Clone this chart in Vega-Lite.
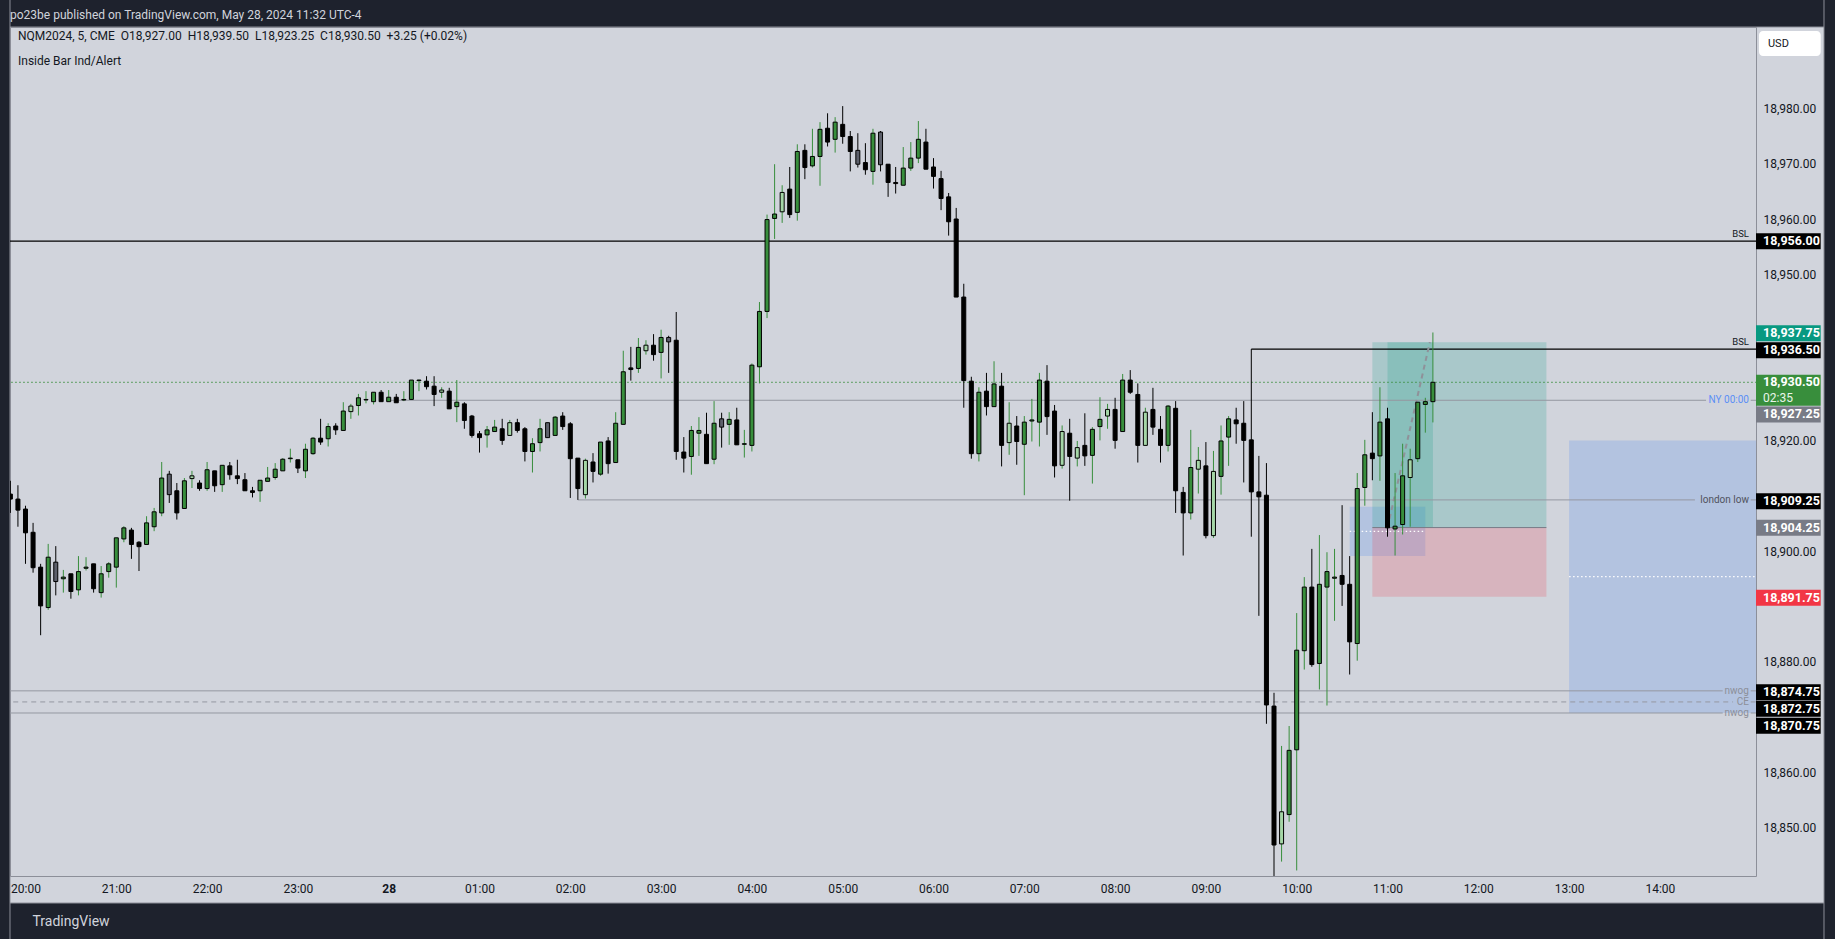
{
"$schema": "https://vega.github.io/schema/vega-lite/v6.json",
"width": 1746, "height": 849,
"autosize": {"type": "none"},
"padding": {"left": 10, "top": 27, "right": 79, "bottom": 63},
"background": "#d1d4dc",
"config": {"view": {"fill": "#d1d4dc", "stroke": "#8c8f99", "strokeWidth": 1}, "font": "Roboto"},
"datasets": {
"one": [{"k": 1}],
"candles": [
{"t":"2024-05-27T19:50Z","o":18910.3,"h":18912.7,"l":18906.9,"c":18909.4},
{"t":"2024-05-27T19:55Z","o":18909.4,"h":18911.9,"l":18904.4,"c":18907.4},
{"t":"2024-05-27T20:00Z","o":18907.6,"h":18908.2,"l":18897.7,"c":18903.3},
{"t":"2024-05-27T20:05Z","o":18903.4,"h":18905.1,"l":18896.1,"c":18897.0},
{"t":"2024-05-27T20:10Z","o":18897.1,"h":18897.7,"l":18884.8,"c":18890.1},
{"t":"2024-05-27T20:15Z","o":18889.8,"h":18901.3,"l":18889.4,"c":18898.9},
{"t":"2024-05-27T20:20Z","o":18898.0,"h":18900.9,"l":18892.0,"c":18894.5,"i":1},
{"t":"2024-05-27T20:25Z","o":18895.0,"h":18896.6,"l":18892.5,"c":18895.3},
{"t":"2024-05-27T20:30Z","o":18895.9,"h":18895.9,"l":18891.4,"c":18892.7},
{"t":"2024-05-27T20:35Z","o":18893.0,"h":18899.1,"l":18892.0,"c":18896.3},
{"t":"2024-05-27T20:40Z","o":18896.9,"h":18898.9,"l":18896.5,"c":18897.1},
{"t":"2024-05-27T20:45Z","o":18897.7,"h":18897.7,"l":18892.5,"c":18893.2},
{"t":"2024-05-27T20:50Z","o":18892.5,"h":18897.3,"l":18891.6,"c":18895.9},
{"t":"2024-05-27T20:55Z","o":18896.3,"h":18898.0,"l":18895.2,"c":18897.7},
{"t":"2024-05-27T21:00Z","o":18897.1,"h":18902.4,"l":18893.4,"c":18902.4},
{"t":"2024-05-27T21:05Z","o":18902.2,"h":18904.5,"l":18901.6,"c":18904.2},
{"t":"2024-05-27T21:10Z","o":18903.8,"h":18904.2,"l":18898.6,"c":18901.2},
{"t":"2024-05-27T21:15Z","o":18901.6,"h":18901.8,"l":18896.4,"c":18900.8},
{"t":"2024-05-27T21:20Z","o":18901.2,"h":18906.3,"l":18901.2,"c":18905.1},
{"t":"2024-05-27T21:25Z","o":18904.4,"h":18907.8,"l":18903.6,"c":18907.1},
{"t":"2024-05-27T21:30Z","o":18906.9,"h":18916.1,"l":18906.3,"c":18913.2},
{"t":"2024-05-27T21:35Z","o":18913.9,"h":18914.5,"l":18908.7,"c":18910.2,"i":1},
{"t":"2024-05-27T21:40Z","o":18910.9,"h":18912.3,"l":18905.7,"c":18906.9},
{"t":"2024-05-27T21:45Z","o":18907.7,"h":18913.2,"l":18907.7,"c":18912.7},
{"t":"2024-05-27T21:50Z","o":18913.1,"h":18914.5,"l":18911.4,"c":18913.6,"i":1},
{"t":"2024-05-27T21:55Z","o":18912.3,"h":18912.8,"l":18910.9,"c":18911.3},
{"t":"2024-05-27T22:00Z","o":18911.3,"h":18916.1,"l":18910.9,"c":18914.7},
{"t":"2024-05-27T22:05Z","o":18914.5,"h":18914.5,"l":18910.7,"c":18911.8},
{"t":"2024-05-27T22:10Z","o":18912.0,"h":18915.5,"l":18910.7,"c":18915.5},
{"t":"2024-05-27T22:15Z","o":18915.4,"h":18916.1,"l":18912.9,"c":18913.8},
{"t":"2024-05-27T22:20Z","o":18913.6,"h":18916.5,"l":18912.1,"c":18913.1},
{"t":"2024-05-27T22:25Z","o":18912.9,"h":18914.1,"l":18910.9,"c":18910.9},
{"t":"2024-05-27T22:30Z","o":18910.9,"h":18911.6,"l":18909.7,"c":18910.6},
{"t":"2024-05-27T22:35Z","o":18910.9,"h":18912.8,"l":18908.9,"c":18912.8},
{"t":"2024-05-27T22:40Z","o":18912.6,"h":18915.2,"l":18912.6,"c":18913.2},
{"t":"2024-05-27T22:45Z","o":18913.3,"h":18915.9,"l":18912.9,"c":18914.8},
{"t":"2024-05-27T22:50Z","o":18914.5,"h":18916.8,"l":18914.5,"c":18916.6},
{"t":"2024-05-27T22:55Z","o":18916.7,"h":18918.5,"l":18916.0,"c":18916.8},
{"t":"2024-05-27T23:00Z","o":18916.5,"h":18916.5,"l":18914.1,"c":18915.0},
{"t":"2024-05-27T23:05Z","o":18914.5,"h":18919.4,"l":18913.2,"c":18918.4},
{"t":"2024-05-27T23:10Z","o":18917.6,"h":18920.6,"l":18917.4,"c":18920.4},
{"t":"2024-05-27T23:15Z","o":18920.4,"h":18923.9,"l":18919.2,"c":18919.7},
{"t":"2024-05-27T23:20Z","o":18920.3,"h":18923.1,"l":18918.9,"c":18922.5},
{"t":"2024-05-27T23:25Z","o":18922.6,"h":18923.1,"l":18921.0,"c":18921.9},
{"t":"2024-05-27T23:30Z","o":18921.8,"h":18926.9,"l":18921.8,"c":18925.3},
{"t":"2024-05-27T23:35Z","o":18925.2,"h":18926.6,"l":18923.9,"c":18926.2,"i":1},
{"t":"2024-05-27T23:40Z","o":18926.3,"h":18928.4,"l":18924.5,"c":18927.7},
{"t":"2024-05-27T23:45Z","o":18927.3,"h":18928.9,"l":18926.7,"c":18927.4},
{"t":"2024-05-27T23:50Z","o":18927.0,"h":18928.7,"l":18926.5,"c":18928.7},
{"t":"2024-05-27T23:55Z","o":18928.7,"h":18929.1,"l":18927.0,"c":18927.0},
{"t":"2024-05-28T00:00Z","o":18927.0,"h":18929.1,"l":18927.0,"c":18927.8},
{"t":"2024-05-28T00:05Z","o":18927.8,"h":18928.4,"l":18926.8,"c":18926.8},
{"t":"2024-05-28T00:10Z","o":18927.3,"h":18928.9,"l":18927.1,"c":18927.4},
{"t":"2024-05-28T00:15Z","o":18927.4,"h":18930.9,"l":18927.3,"c":18930.9},
{"t":"2024-05-28T00:20Z","o":18930.8,"h":18931.0,"l":18928.9,"c":18930.9},
{"t":"2024-05-28T00:25Z","o":18930.7,"h":18931.6,"l":18929.2,"c":18929.7},
{"t":"2024-05-28T00:30Z","o":18929.8,"h":18931.6,"l":18926.2,"c":18928.3},
{"t":"2024-05-28T00:35Z","o":18928.7,"h":18929.6,"l":18927.7,"c":18929.1,"i":1},
{"t":"2024-05-28T00:40Z","o":18928.9,"h":18929.5,"l":18925.7,"c":18925.7},
{"t":"2024-05-28T00:45Z","o":18926.1,"h":18930.9,"l":18923.3,"c":18926.9},
{"t":"2024-05-28T00:50Z","o":18926.6,"h":18926.9,"l":18922.1,"c":18923.6},
{"t":"2024-05-28T00:55Z","o":18924.4,"h":18924.6,"l":18920.5,"c":18920.9},
{"t":"2024-05-28T01:00Z","o":18921.2,"h":18921.7,"l":18917.8,"c":18920.5},
{"t":"2024-05-28T01:05Z","o":18921.0,"h":18922.6,"l":18918.7,"c":18921.9},
{"t":"2024-05-28T01:10Z","o":18921.6,"h":18923.7,"l":18921.6,"c":18922.4},
{"t":"2024-05-28T01:15Z","o":18922.1,"h":18923.9,"l":18919.2,"c":18920.0},
{"t":"2024-05-28T01:20Z","o":18920.9,"h":18923.7,"l":18920.9,"c":18923.2,"i":1},
{"t":"2024-05-28T01:25Z","o":18923.2,"h":18923.9,"l":18921.4,"c":18921.8},
{"t":"2024-05-28T01:30Z","o":18922.1,"h":18922.4,"l":18916.2,"c":18918.0},
{"t":"2024-05-28T01:35Z","o":18918.0,"h":18920.4,"l":18914.2,"c":18919.4},
{"t":"2024-05-28T01:40Z","o":18919.6,"h":18923.9,"l":18918.0,"c":18922.1},
{"t":"2024-05-28T01:45Z","o":18923.2,"h":18923.2,"l":18920.5,"c":18920.5,"i":1},
{"t":"2024-05-28T01:50Z","o":18920.9,"h":18924.4,"l":18920.9,"c":18924.2},
{"t":"2024-05-28T01:55Z","o":18924.4,"h":18925.1,"l":18921.9,"c":18922.5},
{"t":"2024-05-28T02:00Z","o":18923.0,"h":18923.3,"l":18909.6,"c":18916.7},
{"t":"2024-05-28T02:05Z","o":18916.8,"h":18916.8,"l":18909.25,"c":18911.3},
{"t":"2024-05-28T02:10Z","o":18910.2,"h":18916.7,"l":18909.5,"c":18916.4,"i":1},
{"t":"2024-05-28T02:15Z","o":18916.1,"h":18917.7,"l":18912.4,"c":18914.4},
{"t":"2024-05-28T02:20Z","o":18913.9,"h":18919.7,"l":18913.6,"c":18919.7},
{"t":"2024-05-28T02:25Z","o":18919.9,"h":18920.6,"l":18914.0,"c":18915.8},
{"t":"2024-05-28T02:30Z","o":18916.0,"h":18925.1,"l":18916.0,"c":18923.1},
{"t":"2024-05-28T02:35Z","o":18922.9,"h":18936.2,"l":18922.9,"c":18932.4},
{"t":"2024-05-28T02:40Z","o":18933.1,"h":18936.9,"l":18930.8,"c":18932.8},
{"t":"2024-05-28T02:45Z","o":18933.0,"h":18938.5,"l":18932.2,"c":18936.8},
{"t":"2024-05-28T02:50Z","o":18936.2,"h":18938.1,"l":18935.5,"c":18937.2,"i":1},
{"t":"2024-05-28T02:55Z","o":18937.2,"h":18939.2,"l":18934.4,"c":18935.5},
{"t":"2024-05-28T03:00Z","o":18935.9,"h":18940.0,"l":18931.2,"c":18938.6},
{"t":"2024-05-28T03:05Z","o":18938.6,"h":18938.9,"l":18932.2,"c":18937.8,"i":1},
{"t":"2024-05-28T03:10Z","o":18938.1,"h":18943.2,"l":18916.5,"c":18918.0},
{"t":"2024-05-28T03:15Z","o":18917.9,"h":18920.6,"l":18914.2,"c":18916.8},
{"t":"2024-05-28T03:20Z","o":18917.1,"h":18922.6,"l":18913.8,"c":18921.8},
{"t":"2024-05-28T03:25Z","o":18921.3,"h":18924.2,"l":18917.2,"c":18921.8},
{"t":"2024-05-28T03:30Z","o":18921.1,"h":18925.0,"l":18915.8,"c":18915.8},
{"t":"2024-05-28T03:35Z","o":18916.6,"h":18927.1,"l":18915.7,"c":18923.1},
{"t":"2024-05-28T03:40Z","o":18923.9,"h":18925.0,"l":18918.7,"c":18922.4,"i":1},
{"t":"2024-05-28T03:45Z","o":18922.9,"h":18925.1,"l":18919.2,"c":18923.8},
{"t":"2024-05-28T03:50Z","o":18923.7,"h":18925.9,"l":18919.2,"c":18919.2},
{"t":"2024-05-28T03:55Z","o":18919.3,"h":18921.9,"l":18916.9,"c":18919.4},
{"t":"2024-05-28T04:00Z","o":18919.1,"h":18933.9,"l":18918.0,"c":18933.6},
{"t":"2024-05-28T04:05Z","o":18933.3,"h":18945.0,"l":18930.3,"c":18943.3},
{"t":"2024-05-28T04:10Z","o":18943.3,"h":18960.8,"l":18942.1,"c":18959.9},
{"t":"2024-05-28T04:15Z","o":18960.1,"h":18969.9,"l":18956.4,"c":18960.9},
{"t":"2024-05-28T04:20Z","o":18961.3,"h":18966.1,"l":18959.3,"c":18964.8,"i":1},
{"t":"2024-05-28T04:25Z","o":18965.4,"h":18969.4,"l":18960.2,"c":18960.8},
{"t":"2024-05-28T04:30Z","o":18961.2,"h":18973.5,"l":18959.7,"c":18972.2},
{"t":"2024-05-28T04:35Z","o":18972.4,"h":18973.5,"l":18967.2,"c":18969.3},
{"t":"2024-05-28T04:40Z","o":18969.6,"h":18976.3,"l":18969.3,"c":18971.3},
{"t":"2024-05-28T04:45Z","o":18971.3,"h":18977.5,"l":18966.0,"c":18976.2},
{"t":"2024-05-28T04:50Z","o":18976.4,"h":18979.1,"l":18973.1,"c":18973.9},
{"t":"2024-05-28T04:55Z","o":18974.4,"h":18978.4,"l":18972.0,"c":18977.5},
{"t":"2024-05-28T05:00Z","o":18977.1,"h":18980.4,"l":18973.6,"c":18974.9},
{"t":"2024-05-28T05:05Z","o":18974.9,"h":18975.9,"l":18968.6,"c":18972.2},
{"t":"2024-05-28T05:10Z","o":18972.4,"h":18975.5,"l":18969.3,"c":18969.9,"i":1},
{"t":"2024-05-28T05:15Z","o":18970.2,"h":18973.7,"l":18968.0,"c":18968.9},
{"t":"2024-05-28T05:20Z","o":18968.6,"h":18976.3,"l":18966.2,"c":18975.5},
{"t":"2024-05-28T05:25Z","o":18975.7,"h":18975.9,"l":18968.6,"c":18969.8,"i":1},
{"t":"2024-05-28T05:30Z","o":18969.9,"h":18969.9,"l":18964.0,"c":18966.6},
{"t":"2024-05-28T05:35Z","o":18966.6,"h":18969.4,"l":18964.6,"c":18966.4},
{"t":"2024-05-28T05:40Z","o":18966.1,"h":18973.0,"l":18966.1,"c":18969.2},
{"t":"2024-05-28T05:45Z","o":18969.2,"h":18973.9,"l":18968.7,"c":18971.0},
{"t":"2024-05-28T05:50Z","o":18971.0,"h":18977.7,"l":18970.1,"c":18974.4},
{"t":"2024-05-28T05:55Z","o":18973.9,"h":18976.3,"l":18969.0,"c":18969.0},
{"t":"2024-05-28T06:00Z","o":18969.4,"h":18971.0,"l":18965.5,"c":18967.7},
{"t":"2024-05-28T06:05Z","o":18967.3,"h":18968.7,"l":18961.6,"c":18963.7},
{"t":"2024-05-28T06:10Z","o":18964.0,"h":18964.7,"l":18957.0,"c":18959.5},
{"t":"2024-05-28T06:15Z","o":18960.0,"h":18962.0,"l":18945.9,"c":18945.9},
{"t":"2024-05-28T06:20Z","o":18945.9,"h":18948.3,"l":18925.9,"c":18930.8},
{"t":"2024-05-28T06:25Z","o":18930.7,"h":18931.5,"l":18916.7,"c":18917.6},
{"t":"2024-05-28T06:30Z","o":18917.6,"h":18929.6,"l":18916.2,"c":18928.7},
{"t":"2024-05-28T06:35Z","o":18928.9,"h":18932.2,"l":18924.5,"c":18926.1},
{"t":"2024-05-28T06:40Z","o":18926.1,"h":18934.3,"l":18926.1,"c":18930.2},
{"t":"2024-05-28T06:45Z","o":18929.8,"h":18932.2,"l":18915.3,"c":18919.1},
{"t":"2024-05-28T06:50Z","o":18919.6,"h":18926.9,"l":18917.4,"c":18923.1,"i":1},
{"t":"2024-05-28T06:55Z","o":18922.6,"h":18924.4,"l":18915.6,"c":18919.8},
{"t":"2024-05-28T07:00Z","o":18919.3,"h":18924.4,"l":18910.1,"c":18923.3},
{"t":"2024-05-28T07:05Z","o":18923.5,"h":18927.5,"l":18919.8,"c":18923.7},
{"t":"2024-05-28T07:10Z","o":18923.3,"h":18932.2,"l":18918.9,"c":18930.9},
{"t":"2024-05-28T07:15Z","o":18930.7,"h":18933.6,"l":18921.0,"c":18924.3},
{"t":"2024-05-28T07:20Z","o":18925.3,"h":18926.4,"l":18913.3,"c":18915.4},
{"t":"2024-05-28T07:25Z","o":18915.5,"h":18922.7,"l":18914.9,"c":18921.6,"i":1},
{"t":"2024-05-28T07:30Z","o":18921.3,"h":18923.9,"l":18909.1,"c":18917.1},
{"t":"2024-05-28T07:35Z","o":18916.8,"h":18919.9,"l":18915.3,"c":18918.7,"i":1},
{"t":"2024-05-28T07:40Z","o":18919.1,"h":18924.9,"l":18915.4,"c":18917.2},
{"t":"2024-05-28T07:45Z","o":18917.3,"h":18922.4,"l":18912.2,"c":18922.0},
{"t":"2024-05-28T07:50Z","o":18922.5,"h":18927.8,"l":18920.0,"c":18923.8},
{"t":"2024-05-28T07:55Z","o":18924.4,"h":18926.6,"l":18922.1,"c":18925.6,"i":1},
{"t":"2024-05-28T08:00Z","o":18925.6,"h":18927.7,"l":18918.5,"c":18920.0},
{"t":"2024-05-28T08:05Z","o":18921.6,"h":18932.0,"l":18921.6,"c":18930.9},
{"t":"2024-05-28T08:10Z","o":18930.9,"h":18932.7,"l":18928.4,"c":18928.7},
{"t":"2024-05-28T08:15Z","o":18928.3,"h":18930.3,"l":18916.0,"c":18919.1},
{"t":"2024-05-28T08:20Z","o":18919.1,"h":18925.9,"l":18919.1,"c":18925.1,"i":1},
{"t":"2024-05-28T08:25Z","o":18925.6,"h":18929.5,"l":18921.0,"c":18922.4},
{"t":"2024-05-28T08:30Z","o":18922.0,"h":18924.4,"l":18916.0,"c":18919.1},
{"t":"2024-05-28T08:35Z","o":18919.1,"h":18926.4,"l":18918.0,"c":18926.2},
{"t":"2024-05-28T08:40Z","o":18925.8,"h":18927.1,"l":18906.9,"c":18910.9},
{"t":"2024-05-28T08:45Z","o":18910.6,"h":18911.6,"l":18899.2,"c":18906.9},
{"t":"2024-05-28T08:50Z","o":18906.9,"h":18921.9,"l":18905.7,"c":18915.1},
{"t":"2024-05-28T08:55Z","o":18914.8,"h":18918.8,"l":18910.4,"c":18916.4,"i":1},
{"t":"2024-05-28T09:00Z","o":18915.4,"h":18919.7,"l":18902.3,"c":18902.8},
{"t":"2024-05-28T09:05Z","o":18902.8,"h":18918.1,"l":18902.4,"c":18914.4,"i":1},
{"t":"2024-05-28T09:10Z","o":18913.5,"h":18922.7,"l":18910.2,"c":18919.9},
{"t":"2024-05-28T09:15Z","o":18920.6,"h":18924.4,"l":18915.4,"c":18923.9},
{"t":"2024-05-28T09:20Z","o":18923.7,"h":18925.9,"l":18919.4,"c":18923.0},
{"t":"2024-05-28T09:25Z","o":18923.1,"h":18927.1,"l":18912.4,"c":18920.0},
{"t":"2024-05-28T09:30Z","o":18920.1,"h":18936.5,"l":18902.6,"c":18910.7},
{"t":"2024-05-28T09:35Z","o":18910.7,"h":18917.2,"l":18888.3,"c":18909.8},
{"t":"2024-05-28T09:40Z","o":18910.1,"h":18915.9,"l":18868.8,"c":18872.2},
{"t":"2024-05-28T09:45Z","o":18872.0,"h":18874.4,"l":18841.3,"c":18846.9},
{"t":"2024-05-28T09:50Z","o":18847.1,"h":18864.8,"l":18843.9,"c":18852.9,"i":1},
{"t":"2024-05-28T09:55Z","o":18852.4,"h":18868.4,"l":18851.1,"c":18864.0},
{"t":"2024-05-28T10:00Z","o":18864.1,"h":18888.8,"l":18842.3,"c":18882.1},
{"t":"2024-05-28T10:05Z","o":18882.0,"h":18895.3,"l":18878.6,"c":18893.5},
{"t":"2024-05-28T10:10Z","o":18893.5,"h":18900.4,"l":18879.1,"c":18879.5},
{"t":"2024-05-28T10:15Z","o":18879.7,"h":18902.9,"l":18875.0,"c":18894.0},
{"t":"2024-05-28T10:20Z","o":18893.5,"h":18899.8,"l":18872.1,"c":18896.3},
{"t":"2024-05-28T10:25Z","o":18895.1,"h":18900.4,"l":18887.4,"c":18895.3},
{"t":"2024-05-28T10:30Z","o":18895.6,"h":18908.3,"l":18890.1,"c":18894.0},
{"t":"2024-05-28T10:35Z","o":18894.0,"h":18899.1,"l":18877.7,"c":18883.6},
{"t":"2024-05-28T10:40Z","o":18883.3,"h":18914.1,"l":18880.2,"c":18911.3},
{"t":"2024-05-28T10:45Z","o":18911.5,"h":18920.1,"l":18908.2,"c":18917.4},
{"t":"2024-05-28T10:50Z","o":18917.7,"h":18925.1,"l":18912.8,"c":18916.7},
{"t":"2024-05-28T10:55Z","o":18917.2,"h":18929.6,"l":18912.7,"c":18923.3},
{"t":"2024-05-28T11:00Z","o":18923.9,"h":18925.9,"l":18902.6,"c":18904.2},
{"t":"2024-05-28T11:05Z","o":18904.0,"h":18914.1,"l":18899.2,"c":18904.5},
{"t":"2024-05-28T11:10Z","o":18904.8,"h":18919.4,"l":18903.0,"c":18913.6},
{"t":"2024-05-28T11:15Z","o":18913.3,"h":18918.5,"l":18904.4,"c":18916.5,"i":1},
{"t":"2024-05-28T11:20Z","o":18916.7,"h":18926.9,"l":18916.1,"c":18926.9},
{"t":"2024-05-28T11:25Z","o":18926.5,"h":18927.7,"l":18921.4,"c":18927.0},
{"t":"2024-05-28T11:30Z","o":18927.0,"h":18939.5,"l":18923.25,"c":18930.5}
]
},
"layer": [
{
"data": {"values": [{"t1":"2024-05-28T13:00Z","t2":"2024-05-28T15:03:30Z","p1":18870.75,"p2":18920.0},{"t1":"2024-05-28T10:35Z","t2":"2024-05-28T11:25Z","p1":18899.1,"p2":18908.0}]},
"mark": {"type": "rect", "fill": "#4a89f0", "opacity": 0.22},
"encoding": {
"x": {"field": "t1", "type": "temporal",
 "scale": {"type": "utc", "nice": false, "padding": 0, "domain": [{"year":2024,"month":5,"date":27,"hours":19,"minutes":49,"seconds":45,"milliseconds":500,"utc":true},{"year":2024,"month":5,"date":28,"hours":15,"minutes":3,"seconds":30,"utc":true}]},
 "axis": {"orient": "bottom", "values": [
  {"year":2024,"month":5,"date":27,"hours":20,"utc":true},{"year":2024,"month":5,"date":27,"hours":21,"utc":true},{"year":2024,"month":5,"date":27,"hours":22,"utc":true},{"year":2024,"month":5,"date":27,"hours":23,"utc":true},
  {"year":2024,"month":5,"date":28,"hours":0,"utc":true},{"year":2024,"month":5,"date":28,"hours":1,"utc":true},{"year":2024,"month":5,"date":28,"hours":2,"utc":true},{"year":2024,"month":5,"date":28,"hours":3,"utc":true},
  {"year":2024,"month":5,"date":28,"hours":4,"utc":true},{"year":2024,"month":5,"date":28,"hours":5,"utc":true},{"year":2024,"month":5,"date":28,"hours":6,"utc":true},{"year":2024,"month":5,"date":28,"hours":7,"utc":true},
  {"year":2024,"month":5,"date":28,"hours":8,"utc":true},{"year":2024,"month":5,"date":28,"hours":9,"utc":true},{"year":2024,"month":5,"date":28,"hours":10,"utc":true},{"year":2024,"month":5,"date":28,"hours":11,"utc":true},
  {"year":2024,"month":5,"date":28,"hours":12,"utc":true},{"year":2024,"month":5,"date":28,"hours":13,"utc":true},{"year":2024,"month":5,"date":28,"hours":14,"utc":true}],
  "labelExpr": "utchours(datum.value) === 0 ? '28' : utcFormat(datum.value, '%H:%M')",
  "labelFontWeight": {"condition": {"test": "utchours(datum.value) === 0", "value": "bold"}, "value": "normal"},
  "labelFlush": false, "labelOverlap": false, "labelColor": "#131722", "labelFont": "Roboto", "labelFontSize": 12, "labelPadding": 7,
  "ticks": false, "grid": false, "domain": false, "zindex": 1,
  "title": "TradingView", "titleColor": "#d1d4dc", "titleFont": "Roboto", "titleFontSize": 14, "titleFontWeight": "normal",
  "titleAnchor": "start", "titleAlign": "left", "titleX": 22, "titleY": 45, "titleBaseline": "middle"}},
"x2": {"field": "t2"},
"y": {"field": "p1", "type": "quantitative",
 "scale": {"domain": [18841.30, 18994.69], "zero": false, "nice": false, "padding": 0},
 "axis": {"orient": "right", "values": [18850,18860,18880,18900,18920,18950,18960,18970,18980],
  "format": ",.2f", "labelColor": "#131722", "labelFont": "Roboto", "labelFontSize": 12, "labelPadding": 7, "labelBaseline": "middle",
  "ticks": false, "grid": false, "domain": false, "title": null, "zindex": 1}},
"y2": {"field": "p2"}
}
},
{
"data": {"name": "one"},
"mark": {"type": "rect", "fill": "#1e222d", "stroke": "#8c8f99", "strokeWidth": 1},
"encoding": {
 "x": {"datum": {"year":2024,"month":5,"date":27,"hours":18,"utc":true}, "type": "temporal"},
 "x2": {"datum": {"year":2024,"month":5,"date":28,"hours":18,"utc":true}},
 "y": {"datum": 18994.69, "type": "quantitative"}, "y2": {"datum": 19020}}
},
{
"data": {"name": "one"},
"mark": {"type": "rect", "fill": "#1e222d", "stroke": "#8c8f99", "strokeWidth": 1},
"encoding": {
 "x": {"datum": {"year":2024,"month":5,"date":27,"hours":18,"utc":true}, "type": "temporal"},
 "x2": {"datum": {"year":2024,"month":5,"date":28,"hours":18,"utc":true}},
 "y": {"datum": 18810, "type": "quantitative"}, "y2": {"datum": 18836.42}}
},
{
"data": {"name": "one"},
"mark": {"type": "rect", "fill": "#1e222d", "stroke": "#8c8f99", "strokeWidth": 1},
"encoding": {
 "x": {"datum": {"year":2024,"month":5,"date":27,"hours":18,"utc":true}, "type": "temporal"},
 "x2": {"datum": {"year":2024,"month":5,"date":27,"hours":19,"minutes":49,"seconds":45,"utc":true}},
 "y": {"datum": 18810, "type": "quantitative"}, "y2": {"datum": 19020}}
},
{
"data": {"name": "one"},
"mark": {"type": "rect", "fill": "#1e222d", "stroke": "#8c8f99", "strokeWidth": 1},
"encoding": {
 "x": {"datum": {"year":2024,"month":5,"date":28,"hours":15,"minutes":48,"seconds":26,"utc":true}, "type": "temporal"},
 "x2": {"datum": {"year":2024,"month":5,"date":28,"hours":18,"utc":true}},
 "y": {"datum": 18810, "type": "quantitative"}, "y2": {"datum": 19020}}
},
{
"data": {"values": [{"txt":"po23be published on TradingView.com, May 28, 2024 11:32 UTC-4"}]},
"mark": {"type": "text", "align": "left", "baseline": "middle", "color": "#d1d4dc", "fontSize": 12, "font": "Roboto"},
"encoding": {"x": {"datum": {"year":2024,"month":5,"date":27,"hours":19,"minutes":49,"seconds":45,"milliseconds":500,"utc":true}, "type": "temporal"}, "y": {"datum": 18996.86, "type": "quantitative"}, "text": {"field": "txt"}}
},
{
"data": {"values": [{"t1":"2024-05-28T10:50Z","t2":"2024-05-28T12:45Z","p1":18904.25,"p2":18937.75},{"t1":"2024-05-28T11:00Z","t2":"2024-05-28T11:30Z","p1":18904.25,"p2":18937.75}]},
"mark": {"type": "rect", "fill": "#089981", "opacity": 0.2},
"encoding": {"x": {"field": "t1", "type": "temporal"}, "x2": {"field": "t2"}, "y": {"field": "p1", "type": "quantitative"}, "y2": {"field": "p2"}}
},
{
"data": {"values": [{"t1":"2024-05-28T10:50Z","t2":"2024-05-28T12:45Z","p1":18891.75,"p2":18904.25}]},
"mark": {"type": "rect", "fill": "#f23645", "opacity": 0.2},
"encoding": {"x": {"field": "t1", "type": "temporal"}, "x2": {"field": "t2"}, "y": {"field": "p1", "type": "quantitative"}, "y2": {"field": "p2"}}
},
{
"data": {"values": [{"p":18895.375,"t1":"2024-05-28T13:00Z","t2":"2024-05-28T15:03:30Z"},{"p":18903.55,"t1":"2024-05-28T10:35Z","t2":"2024-05-28T11:25Z"}]},
"mark": {"type": "rule", "stroke": "#ffffff", "strokeWidth": 1.2, "strokeDash": [1.5, 2.5]},
"encoding": {"x": {"field": "t1", "type": "temporal"}, "x2": {"field": "t2"}, "y": {"field": "p", "type": "quantitative"}}
},
{
"data": {"values": [
 {"p":18927.25,"t1":"2024-05-28T00:00Z","t2":"2024-05-28T14:30:30Z"},{"p":18927.25,"t1":"2024-05-28T15:00Z","t2":"2024-05-28T15:03:30Z"},
 {"p":18909.25,"t1":"2024-05-28T02:05Z","t2":"2024-05-28T14:23:10Z"},{"p":18909.25,"t1":"2024-05-28T15:00Z","t2":"2024-05-28T15:03:30Z"},
 {"p":18874.75,"t1":"2024-05-27T19:40Z","t2":"2024-05-28T14:41:30Z"},{"p":18874.75,"t1":"2024-05-28T15:00Z","t2":"2024-05-28T15:03:30Z"},
 {"p":18870.75,"t1":"2024-05-27T19:40Z","t2":"2024-05-28T14:41:30Z"},{"p":18870.75,"t1":"2024-05-28T15:00Z","t2":"2024-05-28T15:03:30Z"}]},
"mark": {"type": "rule", "stroke": "#9598a1", "strokeWidth": 1, "clip": true},
"encoding": {"x": {"field": "t1", "type": "temporal"}, "x2": {"field": "t2"}, "y": {"field": "p", "type": "quantitative"}}
},
{
"data": {"values": [{"p":18872.75,"t1":"2024-05-27T19:40Z","t2":"2024-05-28T14:48:20Z"},{"p":18872.75,"t1":"2024-05-28T15:00Z","t2":"2024-05-28T15:03:30Z"}]},
"mark": {"type": "rule", "stroke": "#9598a1", "strokeWidth": 1, "strokeDash": [5, 4], "clip": true},
"encoding": {"x": {"field": "t1", "type": "temporal"}, "x2": {"field": "t2"}, "y": {"field": "p", "type": "quantitative"}}
},
{
"data": {"values": [{"p":18904.25,"t1":"2024-05-28T10:50Z","t2":"2024-05-28T12:45Z"}]},
"mark": {"type": "rule", "stroke": "#787b86", "strokeWidth": 1},
"encoding": {"x": {"field": "t1", "type": "temporal"}, "x2": {"field": "t2"}, "y": {"field": "p", "type": "quantitative"}}
},
{
"data": {"values": [{"p":18930.5,"t1":"2024-05-27T19:40Z","t2":"2024-05-28T15:03:30Z"}]},
"mark": {"type": "rule", "stroke": "#388e3c", "strokeWidth": 1, "strokeDash": [1.5, 2.5], "clip": true},
"encoding": {"x": {"field": "t1", "type": "temporal"}, "x2": {"field": "t2"}, "y": {"field": "p", "type": "quantitative"}}
},
{
"data": {"values": [{"p":18956.0,"t1":"2024-05-27T19:40Z","t2":"2024-05-28T15:03:30Z"},{"p":18936.5,"t1":"2024-05-28T09:30Z","t2":"2024-05-28T15:03:30Z"}]},
"mark": {"type": "rule", "stroke": "#000000", "strokeWidth": 1.2, "clip": true},
"encoding": {"x": {"field": "t1", "type": "temporal"}, "x2": {"field": "t2"}, "y": {"field": "p", "type": "quantitative"}}
},
{
"data": {"values": [{"t":"2024-05-28T11:00Z","p":18904.25},{"t":"2024-05-28T11:28Z","p":18937.75}]},
"mark": {"type": "line", "stroke": "#8f9199", "strokeWidth": 2, "strokeDash": [5, 4]},
"encoding": {"x": {"field": "t", "type": "temporal"}, "y": {"field": "p", "type": "quantitative"}}
},
{
"data": {"name": "candles"},
"mark": {"type": "rule", "strokeWidth": 1, "clip": true},
"encoding": {"x": {"field": "t", "type": "temporal"}, "y": {"field": "l", "type": "quantitative"}, "y2": {"field": "h"},
 "color": {"condition": {"test": "datum.c >= datum.o", "value": "#388e3c"}, "value": "#000000"}}
},
{
"data": {"name": "candles"},
"mark": {"type": "bar", "size": 4, "stroke": "#000000", "strokeWidth": 1, "clip": true},
"encoding": {"x": {"field": "t", "type": "temporal"}, "y": {"field": "o", "type": "quantitative"}, "y2": {"field": "c"},
 "fill": {"condition": [{"test": "datum.i && datum.c >= datum.o", "value": "#a5d6a7"}, {"test": "datum.i", "value": "#5d606b"}, {"test": "datum.c >= datum.o", "value": "#388e3c"}], "value": "#000000"}}
},
{
"data": {"values": [{"p":18956.0,"txt":"BSL"},{"p":18936.5,"txt":"BSL"}]},
"mark": {"type": "text", "align": "right", "baseline": "alphabetic", "dy": -4, "fontSize": 9.5, "font": "Roboto", "color": "#131722"},
"encoding": {"x": {"datum": {"year":2024,"month":5,"date":28,"hours":14,"minutes":58,"seconds":50,"utc":true}, "type": "temporal"}, "y": {"field": "p", "type": "quantitative"}, "text": {"field": "txt"}}
},
{
"data": {"values": [{"p":18927.25,"txt":"NY 00:00"}]},
"mark": {"type": "text", "align": "right", "baseline": "middle", "fontSize": 10, "font": "Roboto", "color": "#5b8ff5"},
"encoding": {"x": {"datum": {"year":2024,"month":5,"date":28,"hours":14,"minutes":58,"seconds":50,"utc":true}, "type": "temporal"}, "y": {"field": "p", "type": "quantitative"}, "text": {"field": "txt"}}
},
{
"data": {"values": [{"p":18909.25,"txt":"london low"},{"p":18874.75,"txt":"nwog"},{"p":18872.75,"txt":"CE"},{"p":18870.75,"txt":"nwog"}]},
"mark": {"type": "text", "align": "right", "baseline": "middle", "fontSize": 10, "font": "Roboto"},
"encoding": {"x": {"datum": {"year":2024,"month":5,"date":28,"hours":14,"minutes":58,"seconds":50,"utc":true}, "type": "temporal"}, "y": {"field": "p", "type": "quantitative"}, "text": {"field": "txt"},
 "color": {"condition": {"test": "datum.txt === 'london low'", "value": "#50535e"}, "value": "#8c8f99"}}
},
{
"data": {"values": [
 {"p":18956.00,"ly":18956.00,"role":"level"},
 {"p":18937.75,"ly":18939.35,"role":"target"},
 {"p":18936.50,"ly":18936.30,"role":"level"},
 {"p":18927.25,"ly":18924.70,"role":"ny"},
 {"p":18909.25,"ly":18909.00,"role":"level"},
 {"p":18904.25,"ly":18904.20,"role":"entry"},
 {"p":18891.75,"ly":18891.55,"role":"stop"},
 {"p":18874.75,"ly":18874.50,"role":"level"},
 {"p":18872.75,"ly":18871.50,"role":"level"},
 {"p":18870.75,"ly":18868.45,"role":"level"}]},
"layer": [
 {"mark": {"type": "bar", "size": 16},
  "encoding": {"x": {"datum": {"year":2024,"month":5,"date":28,"hours":15,"minutes":3,"seconds":30,"utc":true}, "type": "temporal"},
   "x2": {"datum": {"year":2024,"month":5,"date":28,"hours":15,"minutes":46,"seconds":15,"utc":true}},
   "y": {"field": "ly", "type": "quantitative"},
   "fill": {"field": "role", "type": "nominal", "legend": null, "scale": {"domain": ["level","target","ny","entry","stop"], "range": ["#000000","#089981","#787b86","#787b86","#f23645"]}}}},
 {"mark": {"type": "text", "align": "left", "baseline": "middle", "color": "#ffffff", "fontWeight": "bold", "fontSize": 12.5, "font": "Roboto"},
  "encoding": {"x": {"datum": {"year":2024,"month":5,"date":28,"hours":15,"minutes":8,"seconds":7,"utc":true}, "type": "temporal"},
   "y": {"field": "ly", "type": "quantitative"},
   "text": {"field": "p", "type": "quantitative", "format": ",.2f"}}}
]
},
{
"data": {"values": [{"p":18930.5,"ly":18929.05,"cy":18927.75,"cd":"02:35"}]},
"layer": [
 {"mark": {"type": "bar", "size": 31, "fill": "#388e3c"},
  "encoding": {"x": {"datum": {"year":2024,"month":5,"date":28,"hours":15,"minutes":3,"seconds":30,"utc":true}, "type": "temporal"},
   "x2": {"datum": {"year":2024,"month":5,"date":28,"hours":15,"minutes":46,"seconds":15,"utc":true}},
   "y": {"field": "ly", "type": "quantitative"}}},
 {"mark": {"type": "text", "align": "left", "baseline": "middle", "color": "#ffffff", "fontWeight": "bold", "fontSize": 12.5, "font": "Roboto"},
  "encoding": {"x": {"datum": {"year":2024,"month":5,"date":28,"hours":15,"minutes":8,"seconds":7,"utc":true}, "type": "temporal"},
   "y": {"field": "p", "type": "quantitative"},
   "text": {"field": "p", "type": "quantitative", "format": ",.2f"}}},
 {"mark": {"type": "text", "align": "left", "baseline": "middle", "color": "#e8f5e9", "fontSize": 12, "font": "Roboto"},
  "encoding": {"x": {"datum": {"year":2024,"month":5,"date":28,"hours":15,"minutes":8,"seconds":7,"utc":true}, "type": "temporal"},
   "y": {"field": "cy", "type": "quantitative"},
   "text": {"field": "cd"}}}
]
},
{
"data": {"values": [{"cur":"USD"}]},
"layer": [
 {"mark": {"type": "bar", "size": 25, "fill": "#ffffff", "cornerRadius": 4},
  "encoding": {"x": {"datum": {"year":2024,"month":5,"date":28,"hours":15,"minutes":5,"seconds":28,"utc":true}, "type": "temporal"},
   "x2": {"datum": {"year":2024,"month":5,"date":28,"hours":15,"minutes":46,"seconds":15,"utc":true}},
   "y": {"datum": 18991.7, "type": "quantitative"}}},
 {"mark": {"type": "text", "align": "left", "baseline": "middle", "color": "#131722", "fontSize": 11, "font": "Roboto"},
  "encoding": {"x": {"datum": {"year":2024,"month":5,"date":28,"hours":15,"minutes":11,"seconds":25,"utc":true}, "type": "temporal"},
   "y": {"datum": 18991.7, "type": "quantitative"},
   "text": {"field": "cur"}}}
]
},
{
"data": {"values": [{"txt":"NQM2024, 5, CME\u00a0 O18,927.00\u00a0 H18,939.50\u00a0 L18,923.25\u00a0 C18,930.50\u00a0 +3.25 (+0.02%)"}]},
"mark": {"type": "text", "align": "left", "baseline": "middle", "color": "#131722", "fontSize": 12, "font": "Roboto"},
"encoding": {"x": {"datum": {"year":2024,"month":5,"date":27,"hours":19,"minutes":55,"seconds":3,"utc":true}, "type": "temporal"}, "y": {"datum": 18993.0, "type": "quantitative"}, "text": {"field": "txt"}}
},
{
"data": {"values": [{"txt":"Inside Bar Ind/Alert"}]},
"mark": {"type": "text", "align": "left", "baseline": "middle", "color": "#131722", "fontSize": 12, "font": "Roboto"},
"encoding": {"x": {"datum": {"year":2024,"month":5,"date":27,"hours":19,"minutes":55,"seconds":3,"utc":true}, "type": "temporal"}, "y": {"datum": 18988.6, "type": "quantitative"}, "text": {"field": "txt"}}
}
]
}
